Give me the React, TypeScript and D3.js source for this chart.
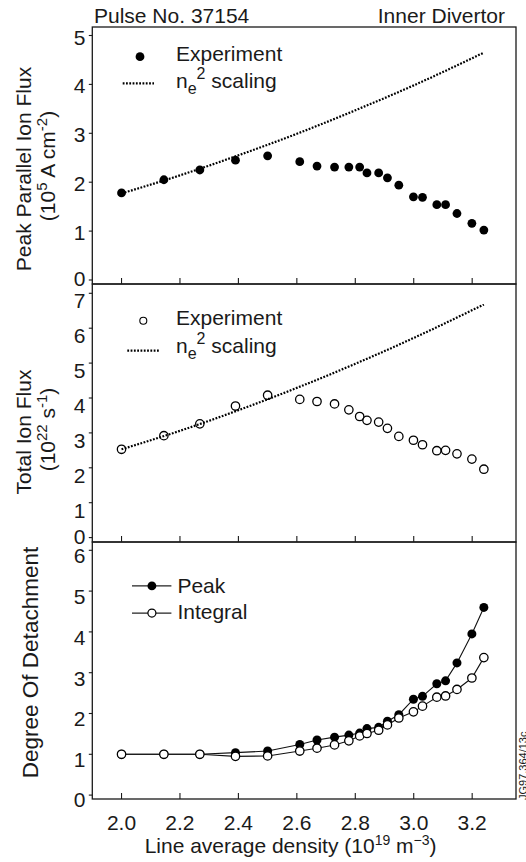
import React from 'react';
import * as d3 from 'd3';

// ---------------- data ----------------
const density = [2.0, 2.145, 2.268, 2.39, 2.5, 2.61, 2.669, 2.729, 2.778, 2.815, 2.84, 2.88, 2.91, 2.949, 2.999, 3.03, 3.079, 3.109, 3.148, 3.199, 3.24];
const peakFlux = [1.78, 2.05, 2.25, 2.45, 2.54, 2.42, 2.33, 2.31, 2.31, 2.31, 2.19, 2.19, 2.09, 1.94, 1.70, 1.69, 1.54, 1.54, 1.36, 1.16, 1.02];
const totalFlux = [2.53, 2.92, 3.26, 3.77, 4.08, 3.96, 3.90, 3.83, 3.66, 3.47, 3.36, 3.31, 3.13, 2.90, 2.79, 2.66, 2.49, 2.50, 2.40, 2.25, 1.96];
const detachPeak = [1.0, 1.0, 1.0, 1.04, 1.08, 1.24, 1.35, 1.42, 1.47, 1.52, 1.63, 1.66, 1.81, 1.97, 2.35, 2.42, 2.73, 2.80, 3.24, 3.95, 4.60];
const detachIntegral = [1.0, 1.0, 1.0, 0.95, 0.96, 1.08, 1.15, 1.23, 1.33, 1.45, 1.51, 1.59, 1.72, 1.89, 2.04, 2.18, 2.40, 2.43, 2.59, 2.87, 3.37];

const scalingDensity = [2.0, 2.2, 2.4, 2.6, 2.8, 3.0, 3.24];
const peakScaling = [1.77, 2.14, 2.55, 2.99, 3.47, 3.98, 4.65];
const totalScaling = [2.53, 3.06, 3.65, 4.29, 4.98, 5.72, 6.68];

const xTicks = [2.0, 2.2, 2.4, 2.6, 2.8, 3.0, 3.2];
const yTicksPeak = [0, 1, 2, 3, 4, 5];
const yTicksTotal = [0, 1, 2, 3, 4, 5, 6, 7];
const yTicksDetach = [0, 1, 2, 3, 4, 5, 6];

// ---------------- layout ----------------
const W = 526;
const H = 862;
const FONT = "'Liberation Sans', Arial, sans-serif";
const FS = 21;
const LEFT = 92.3;
const RIGHT = 516;
const DOTS = "1.8 1.5";

const x = d3.scaleLinear().domain([1.9, 3.35]).range([LEFT, RIGHT]);

const panels = [
  { top: 27, bottom: 284, y: d3.scaleLinear().domain([0, 5]).range([280, 35.5]), ticks: yTicksPeak, labelOff: 1.5, zeroOff: -1.5 },
  { top: 284, bottom: 542, y: d3.scaleLinear().domain([0, 7]).range([537.6, 293.3]), ticks: yTicksTotal, labelOff: 7.3, zeroOff: -1.5 },
  { top: 542, bottom: 799, y: d3.scaleLinear().domain([0, 6]).range([795.1, 550.3]), ticks: yTicksDetach, labelOff: 5.3, zeroOff: 4 },
];

const fmt = d3.format('.1f');

function Frame({ p, showXLabels }: { p: any; showXLabels: boolean }) {
  return (
    <g>
      <rect x={LEFT} y={p.top} width={RIGHT - LEFT} height={p.bottom - p.top} fill="none" stroke="#1a1a1a" strokeWidth={1.3} />
      {p.ticks.map((t: number) => (
        <g key={'y' + t}>
          <line x1={LEFT - 3.5} x2={LEFT} y1={p.y(t)} y2={p.y(t)} stroke="#1a1a1a" strokeWidth={1.1} />
          <text x={85.5} y={p.y(t) + (t === 0 ? p.zeroOff : p.labelOff) + 7.5} textAnchor="end" fontSize={FS} fontFamily={FONT} fill="#1a1a1a">{t}</text>
        </g>
      ))}
      {xTicks.map((t) => (
        <g key={'x' + t}>
          <line x1={x(t)} x2={x(t)} y1={p.bottom} y2={p.bottom - 6} stroke="#1a1a1a" strokeWidth={1.1} />
          {showXLabels && (
            <text x={x(t)} y={830} textAnchor="middle" fontSize={FS} fontFamily={FONT} fill="#1a1a1a">{fmt(t)}</text>
          )}
        </g>
      ))}
    </g>
  );
}

export default function App() {
  const [p1, p2, p3] = panels;
  const scaleLine1 = d3.line<number>().x((_, i) => x(scalingDensity[i])).y((d) => p1.y(d)).curve(d3.curveMonotoneX);
  const scaleLine2 = d3.line<number>().x((_, i) => x(scalingDensity[i])).y((d) => p2.y(d)).curve(d3.curveMonotoneX);
  const lineP = d3.line<number>().x((_, i) => x(density[i])).y((d) => p3.y(d));

  return (
    <svg width={W} height={H} style={{ position: 'absolute', left: 0, top: 0, background: '#fff' }} fontFamily={FONT}>
      <rect x={0} y={0} width={W} height={H} fill="#fff" />
      {/* titles */}
      <text x={94} y={23} fontSize={FS} fill="#1a1a1a">Pulse No. 37154</text>
      <text x={505} y={23} fontSize={FS} textAnchor="end" fill="#1a1a1a">Inner Divertor</text>

      {/* panel 1 */}
      <Frame p={p1} showXLabels={false} />
      <path d={scaleLine1(peakScaling) || ''} fill="none" stroke="#000" strokeWidth={2.2} strokeDasharray={DOTS} />
      {peakFlux.map((v, i) => (
        <circle key={'pf' + i} cx={x(density[i])} cy={p1.y(v)} r={4.4} fill="#000" />
      ))}
      <circle cx={140} cy={56.7} r={4.4} fill="#000" />
      <text x={176} y={61} fontSize={FS} fill="#1a1a1a">Experiment</text>
      <line x1={122.7} x2={154} y1={83.3} y2={83.3} stroke="#000" strokeWidth={2.2} strokeDasharray={DOTS} />
      <text x={176} y={88.3} fontSize={FS} fill="#1a1a1a">n<tspan fontSize={16} dy={6}>e</tspan><tspan fontSize={16} dy={-15}>2</tspan><tspan dy={9}> scaling</tspan></text>

      {/* panel 2 */}
      <Frame p={p2} showXLabels={false} />
      <path d={scaleLine2(totalScaling) || ''} fill="none" stroke="#000" strokeWidth={2.2} strokeDasharray={DOTS} />
      {totalFlux.map((v, i) => (
        <circle key={'tf' + i} cx={x(density[i])} cy={p2.y(v)} r={4.2} fill="none" stroke="#000" strokeWidth={1.3} />
      ))}
      <circle cx={143.3} cy={320.7} r={3.5} fill="none" stroke="#000" strokeWidth={1.1} />
      <text x={176} y={325} fontSize={FS} fill="#1a1a1a">Experiment</text>
      <line x1={127.3} x2={159.3} y1={350.7} y2={350.7} stroke="#000" strokeWidth={2.2} strokeDasharray={DOTS} />
      <text x={176} y={352.7} fontSize={FS} fill="#1a1a1a">n<tspan fontSize={16} dy={6}>e</tspan><tspan fontSize={16} dy={-15}>2</tspan><tspan dy={9}> scaling</tspan></text>

      {/* panel 3 */}
      <Frame p={p3} showXLabels={true} />
      <path d={lineP(detachPeak) || ''} fill="none" stroke="#111" strokeWidth={1.1} />
      <path d={lineP(detachIntegral) || ''} fill="none" stroke="#111" strokeWidth={1.1} />
      {detachPeak.map((v, i) => (
        <circle key={'dp' + i} cx={x(density[i])} cy={p3.y(v)} r={4.5} fill="#000" />
      ))}
      {detachIntegral.map((v, i) => (
        <circle key={'di' + i} cx={x(density[i])} cy={p3.y(v)} r={4.2} fill="#fff" stroke="#000" strokeWidth={1.3} />
      ))}
      <line x1={132} x2={171.4} y1={585.9} y2={585.9} stroke="#222" strokeWidth={1.1} />
      <circle cx={151.9} cy={585.9} r={4.4} fill="#000" />
      <text x={177.4} y={592.6} fontSize={FS} fill="#1a1a1a">Peak</text>
      <line x1={132} x2={171.4} y1={613.1} y2={613.1} stroke="#222" strokeWidth={1.1} />
      <circle cx={151.9} cy={613.1} r={4} fill="#fff" stroke="#000" strokeWidth={1.2} />
      <text x={177.4} y={619} fontSize={FS} fill="#1a1a1a">Integral</text>

      {/* y-axis titles */}
      <text transform="translate(31,169) rotate(-90)" textAnchor="middle" fontSize={FS} fill="#1a1a1a">Peak Parallel Ion Flux</text>
      <text transform="translate(55,166) rotate(-90)" textAnchor="middle" fontSize={FS} fill="#1a1a1a">(10<tspan fontSize={15} dy={-8}>5</tspan><tspan dy={8}> A cm</tspan><tspan fontSize={15} dy={-8}>-2</tspan><tspan dy={8}>)</tspan></text>
      <text transform="translate(31,432) rotate(-90)" textAnchor="middle" fontSize={FS} fill="#1a1a1a">Total Ion Flux</text>
      <text transform="translate(55,429.5) rotate(-90)" textAnchor="middle" fontSize={FS} fill="#1a1a1a">(10<tspan fontSize={15} dy={-8}>22</tspan><tspan dy={8}> s</tspan><tspan fontSize={15} dy={-8}>-1</tspan><tspan dy={8}>)</tspan></text>
      <text transform="translate(38,662.5) rotate(-90)" textAnchor="middle" fontSize={22.5} fill="#1a1a1a">Degree Of Detachment</text>

      {/* x-axis title */}
      <text x={290.6} y={853} textAnchor="middle" fontSize={FS} fill="#1a1a1a">Line average density (10<tspan fontSize={14} dy={-8}>19</tspan><tspan dy={8}> m</tspan><tspan fontSize={14} dy={-8}>−3</tspan><tspan dy={8}>)</tspan></text>

      {/* figure id */}
      <text transform="translate(527,800) rotate(-90)" fontSize={11} fill="#1a1a1a">JG97.364/13c</text>
    </svg>
  );
}
